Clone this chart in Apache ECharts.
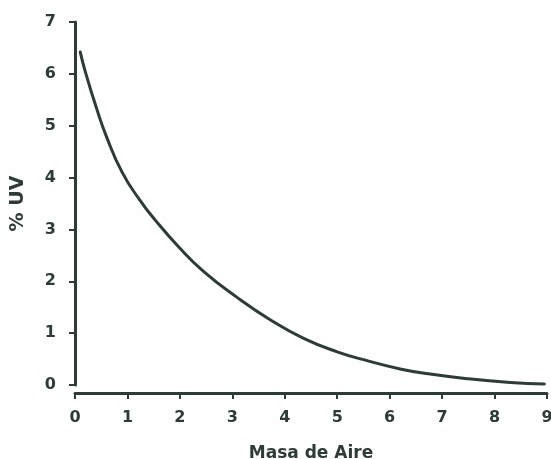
<!DOCTYPE html>
<html>
<head>
<meta charset="utf-8">
<script src="https://cdn.jsdelivr.net/npm/echarts@6/dist/echarts.min.js"></script>
<style>
  html, body { margin: 0; padding: 0; background: #fdfefd; }
  #chart { width: 551px; height: 459px; }
</style>
</head>
<body>
<div id="chart"></div>
<script>
// air mass (x) vs % UV (y)
const airMass = [0.1, 0.2, 0.4, 0.6, 0.9, 1.24, 1.53, 1.97, 2.45, 3.09, 3.72, 4.36, 5, 5.6, 6.2, 6.7, 7.5, 8.3, 8.95]
const uvPercent = [6.42, 6.03, 5.37, 4.79, 4.1, 3.56, 3.18, 2.67, 2.19, 1.69, 1.26, 0.9, 0.64, 0.46, 0.31, 0.22, 0.12, 0.05, 0.02]

const xTicks = [0, 9, 1]   // min, max, interval
const yTicks = [0, 7, 1]

const ink = '#2e3b36'
const font = 'DejaVu Sans'

const chart = echarts.init(document.getElementById('chart'), null, { renderer: 'canvas' })

chart.setOption({
  backgroundColor: '#fdfefd',
  animation: false,
  grid: { left: 75, right: 4, top: 22, bottom: 74, outerBoundsMode: 'none' },
  xAxis: {
    type: 'value',
    min: xTicks[0],
    max: xTicks[1],
    interval: xTicks[2],
    offset: 8,
    name: 'Masa de Aire',
    nameLocation: 'middle',
    nameGap: 52,
    nameTextStyle: { color: ink, fontSize: 17, fontWeight: 'bold', fontFamily: font },
    axisLine: { onZero: false, lineStyle: { color: ink, width: 3 } },
    axisTick: { length: 6, lineStyle: { color: ink, width: 2 } },
    axisLabel: { color: ink, fontSize: 16, fontWeight: 'bold', fontFamily: font, margin: 17 },
    splitLine: { show: false },
  },
  yAxis: {
    type: 'value',
    min: yTicks[0],
    max: yTicks[1],
    interval: yTicks[2],
    offset: 5,
    name: '% UV',
    nameLocation: 'middle',
    nameGap: 42,
    nameTextStyle: { color: ink, fontSize: 19, fontWeight: 'bold', fontFamily: font },
    axisLine: { lineStyle: { color: ink, width: 3 } },
    axisTick: { length: 6, lineStyle: { color: ink, width: 2 } },
    axisLabel: { color: ink, fontSize: 16, fontWeight: 'bold', fontFamily: font, margin: 14 },
    splitLine: { show: false },
  },
  series: [
    {
      type: 'line',
      data: airMass.map((x, i) => [x, uvPercent[i]]),
      smooth: 0.5,
      symbol: 'none',
      lineStyle: { color: ink, width: 3, cap: 'round' },
    },
  ],
})
</script>
</body>
</html>
